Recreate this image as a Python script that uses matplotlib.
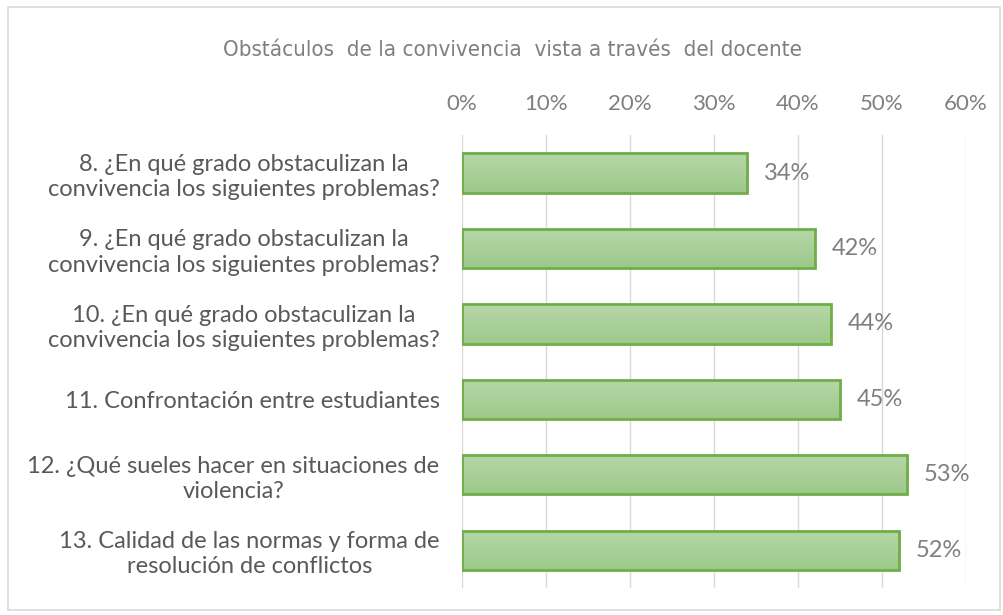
import matplotlib
matplotlib.use("Agg")
import matplotlib.pyplot as plt
import numpy as np

# data
categories = [
    "8. ¿En qué grado obstaculizan la\nconvivencia los siguientes problemas?",
    "9. ¿En qué grado obstaculizan la\nconvivencia los siguientes problemas?",
    "10. ¿En qué grado obstaculizan la\nconvivencia los siguientes problemas?",
    "11. Confrontación entre estudiantes",
    "12. ¿Qué sueles hacer en situaciones de\nviolencia?",
    "13. Calidad de las normas y forma de\nresolución de conflictos",
]
values = [0.34, 0.42, 0.44, 0.45, 0.53, 0.52]
xticks = [0, 0.1, 0.2, 0.3, 0.4, 0.5, 0.6]
title = "Obstáculos  de la convivencia  vista a través  del docente"

fig = plt.figure(figsize=(10.04, 6.15), dpi=100)
ax = fig.add_axes([0.460, 0.044, 0.502, 0.736])

# light gray border around the whole chart
fig.patches.append(plt.Rectangle((0.008, 0.008), 0.988, 0.981, transform=fig.transFigure,
                                 fill=False, edgecolor="#d9d9d9", linewidth=1.2))

y = np.arange(len(categories))
bars = ax.barh(y, values, height=0.52, color="none", edgecolor="#70ad47", linewidth=2, zorder=3)

# vertical gradient fill inside each bar
grad = np.linspace(0, 1, 64).reshape(-1, 1)
cmap = matplotlib.colors.LinearSegmentedColormap.from_list("g", ["#b6d7a8", "#9dc98a"])
for b in bars:
    x0, y0 = b.get_x(), b.get_y()
    w, h = b.get_width(), b.get_height()
    im = ax.imshow(grad, cmap=cmap, aspect="auto", extent=(x0, x0 + w, y0 + h, y0),
                   origin="upper", zorder=2)
    im.set_clip_path(b)

for yi, v in zip(y, values):
    ax.annotate(f"{v:.0%}", (v, yi), xytext=(12, 0), textcoords="offset points",
                va="center", ha="left", fontsize=17, color="#7f7f7f", family="Lato")

ax.set_xlim(0, 0.6)
ax.set_ylim(len(categories) - 0.5, -0.5)
ax.set_xticks(xticks)
ax.set_xticklabels([f"{t:.0%}" for t in xticks], fontsize=16, color="#7f7f7f", family="Lato")
ax.xaxis.tick_top()
ax.set_yticks(y)
ax.set_yticklabels(categories, fontsize=17, color="#595959", family="Lato")
for lbl in ax.get_yticklabels():
    lbl.set_multialignment("center")
    lbl.set_linespacing(1.25)
ax.tick_params(axis="both", length=0)
ax.tick_params(axis="x", pad=15)
ax.tick_params(axis="y", pad=16)
ax.grid(True, axis="x", color="#d9d9d9", linewidth=1, zorder=0)
ax.set_axisbelow(True)
for s in ax.spines.values():
    s.set_visible(False)

fig.text(0.510, 0.918, title, ha="center", va="center", fontsize=16, color="#7f7f7f",
         family="DejaVu Sans", stretch="condensed")

fig.savefig("out.png", dpi=100)
